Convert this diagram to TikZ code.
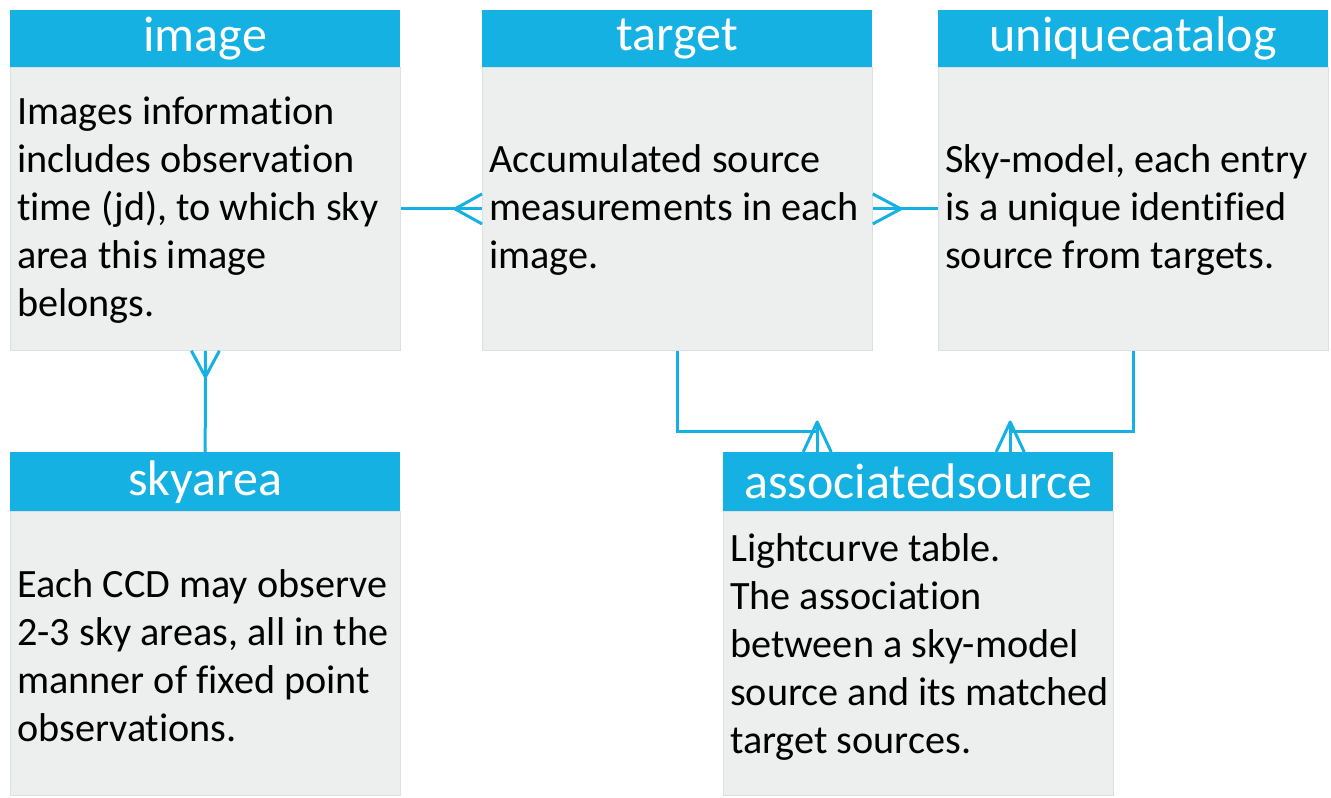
\documentclass[tikz,border=0pt]{standalone}
\usepackage{fontspec}
\setmainfont{Carlito}[Ligatures={NoCommon}]
\usetikzlibrary{calc}
\definecolor{hdr}{RGB}{21,177,226}
\definecolor{bodyfill}{RGB}{237,239,239}
\definecolor{bodyline}{RGB}{218,224,228}
\tikzset{
  hbox/.style={draw=none, fill=hdr, text=white, minimum width=390pt, minimum height=57pt,
    inner sep=0pt, anchor=north west, font=\fontsize{50}{54}\selectfont},
  bbox/.style={draw=bodyline, line width=0.8pt, fill=bodyfill, minimum width=390pt, inner sep=0pt,
    anchor=north west},
  btext/.style={anchor=west, inner sep=0pt, align=left, font=\fontsize{40.2}{48}\selectfont},
  conn/.style={draw=hdr, line width=3pt},
}
\begin{document}
\begin{tikzpicture}[x=1pt,y=-1pt]
\useasboundingbox (0,0) rectangle (1331,798);
% image
\node[bbox, minimum height=283pt] (image-b) at (10,67) {};
\node[btext] (image-t) at ($(image-b.west)+(7,1)$) {Images information\\includes observation\\time (jd), to which sky\\area this image\\belongs.};
\node[hbox] (image-h) at (10,10) {image};
% target
\node[bbox, minimum height=283pt] (target-b) at (482,67) {};
\node[btext] (target-t) at ($(target-b.west)+(7,1)$) {Accumulated source\\measurements in each\\image.};
\node[hbox] (target-h) at (482,10) {target};
% uniquecatalog
\node[bbox, minimum height=283pt] (uc-b) at (938,67) {};
\node[btext] (uc-t) at ($(uc-b.west)+(7,1)$) {Sky-model, each entry\\is a unique identified\\source from targets.};
\node[hbox] (uc-h) at (938,10) {uniquecatalog};
% skyarea
\node[bbox, minimum height=284pt] (sky-b) at (10,511) {};
\node[btext] (sky-t) at ($(sky-b.west)+(7,2)$) {Each CCD may observe\\2-3 sky areas, all in the\\manner of fixed point\\observations.};
\node[hbox, minimum height=59pt] (sky-h) at (10,452) {skyarea};
% associatedsource
\node[bbox, minimum height=284pt] (as-b) at (723,511) {};
\node[btext] (as-t) at ($(as-b.west)+(7,-6)$) {Lightcurve table.\\The association\\between a sky-model\\source and its matched\\target sources.};
\node[hbox, minimum height=59pt] (as-h) at (723,452) {associatedsource};
% connectors
% image -- target (crow's foot at target)
\draw[conn] (image-b.east) -- (target-b.west);
\draw[conn, line join=round] ($(target-b.west)+(0,-15)$) -- ($(target-b.west)+(-27,0)$) -- ($(target-b.west)+(0,15)$);
% target -- uniquecatalog (crow's foot at target)
\draw[conn] (target-b.east) -- (uc-b.west);
\draw[conn, line join=round] ($(target-b.east)+(0,-15)$) -- ($(target-b.east)+(28,0)$) -- ($(target-b.east)+(0,15)$);
% image -- skyarea (crow's foot at image)
\draw[conn] (image-b.south) -- (sky-h.north);
\draw[conn, line join=round] ($(image-b.south)+(-14,0)$) -- ($(image-b.south)+(0,26)$) -- ($(image-b.south)+(14,0)$);
% target -- associatedsource
\coordinate (ta) at ($(as-h.north)+(-101,0)$);
\draw[conn, line join=miter] (target-b.south) |- ($(ta)+(0,-21)$);
\draw[conn] ($(ta)+(0,-30)$) -- (ta);
\draw[conn, line join=round] ($(ta)+(-14,0)$) -- ($(ta)+(0,-30)$) -- ($(ta)+(14,0)$);
% uniquecatalog -- associatedsource
\coordinate (tb) at ($(as-h.north)+(92,0)$);
\draw[conn, line join=miter] (uc-b.south) |- ($(tb)+(0,-21)$);
\draw[conn] ($(tb)+(0,-30)$) -- (tb);
\draw[conn, line join=round] ($(tb)+(-14,0)$) -- ($(tb)+(0,-30)$) -- ($(tb)+(14,0)$);
\end{tikzpicture}
\end{document}
